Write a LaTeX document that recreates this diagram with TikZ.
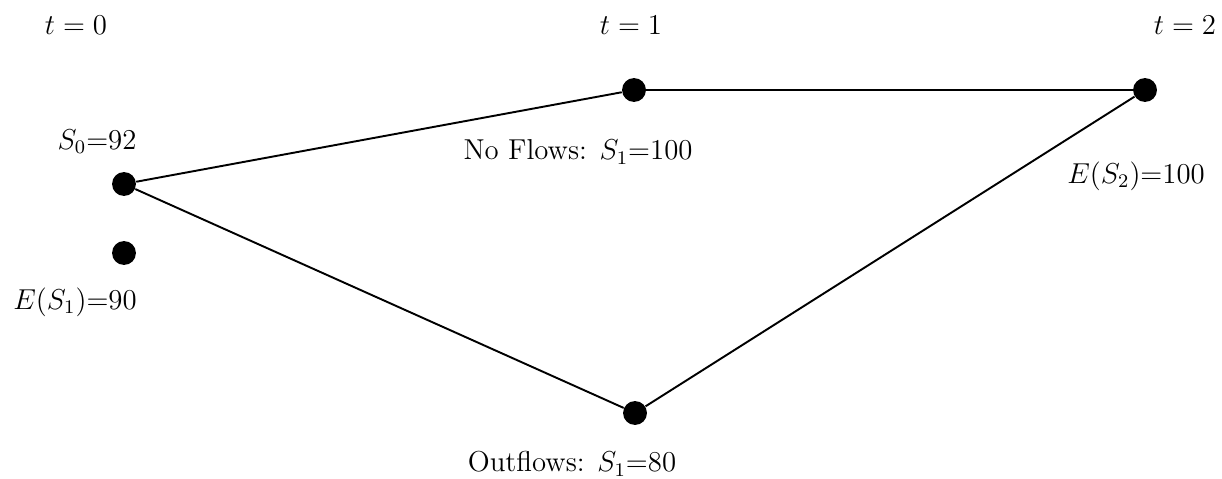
\documentclass[tikz,border=0pt]{standalone}
\usepackage{amsmath}
\usetikzlibrary{positioning}
\tikzset{
  state/.style={circle, fill=black, inner sep=0pt, minimum size=3.5mm},
  path/.style={thick, draw=black},
  val/.style={font=\large, inner sep=1pt}
}
\begin{document}
\begin{tikzpicture}[x=0.01465cm, y=-0.01465cm]
\useasboundingbox (0,0) rectangle (1222,479);
% time labels
\node[val] (t0) at (76,25) {$t=0$};
\node[val] (t1) at (631,25) {$t=1$};
\node[val] (t2) at (1185,25) {$t=2$};
% states
\node[state] (start) at (124,184) {};
\node[state] (expect) at (124,253) {};
\node[state] (noflow) at (634,90) {};
\node[state] (outflow) at (635,413) {};
\node[state] (final) at (1145,90) {};
\draw[path] (start)--(noflow);
\draw[path] (noflow)--(final);
\draw[path] (start)--(outflow);
\draw[path] (outflow)--(final);
\node[val] (startlab) at (97,142) {$S_0$=92};
\node[val] (expectlab) at (75,302) {$E(S_1)$=90};
\node[val] (noflowlab) at (578,152) {No Flows: $S_1$=100};
\node[val] (outflowlab) at (572,464) {Outflows: $S_1$=80};
\node[val] (finallab) at (1136,176) {$E(S_2)$=100};
\end{tikzpicture}
\end{document}
